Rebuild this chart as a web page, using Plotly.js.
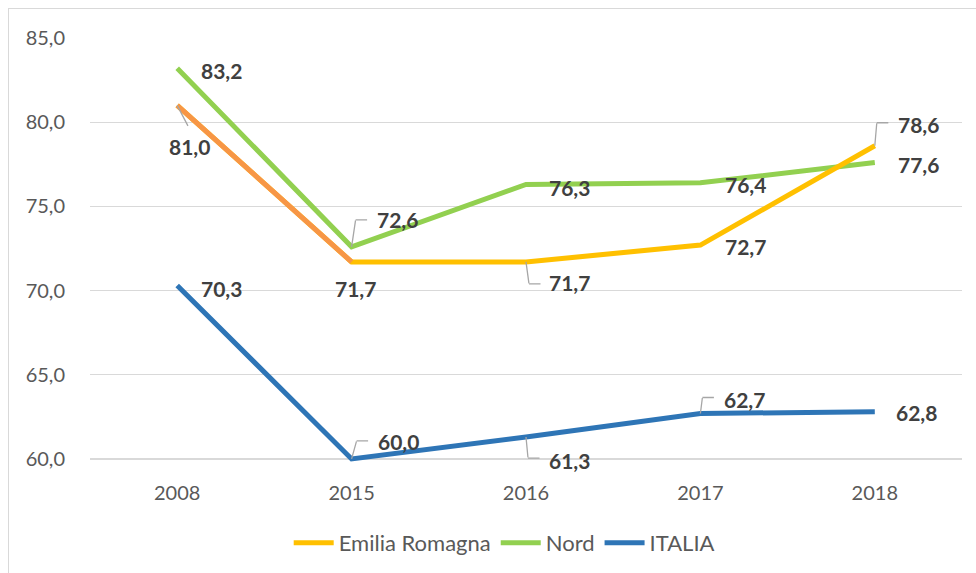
<!DOCTYPE html>
<html>
<head>
<meta charset="utf-8">
<script src="https://cdn.plot.ly/plotly-3.0.1.min.js"></script>
<style>
  html, body { margin: 0; padding: 0; background: #fff; }
  #wrap { position: relative; width: 976px; height: 573px; overflow: hidden; }
  #chart { position: absolute; left: 0; top: 0; width: 976px; height: 573px; }
  #frame { position: absolute; left: 8px; top: 8px; width: 1100px; height: 1100px;
           border: 1px solid #d9d9d9; pointer-events: none; box-sizing: border-box; }
</style>
</head>
<body>
<div id="wrap">
  <div id="chart"></div>
  <div id="frame"></div>
</div>
<script>
// ---- data ----
const years = ["2008", "2015", "2016", "2017", "2018"];
const emiliaRomagna = [81.0, 71.7, 71.7, 72.7, 78.6];
const nord = [83.2, 72.6, 76.3, 76.4, 77.6];
const italia = [70.3, 60.0, 61.3, 62.7, 62.8];
const seriesNames = ["Emilia Romagna", "Nord", "ITALIA"];

// ---- styling ----
const FONT = "Lato, 'Open Sans', 'Liberation Sans', sans-serif";
const colors = { emilia: "#FFC000", emiliaFirst: "#F79646", nord: "#92D050", italia: "#2E75B6" };
const LW = 5;

// label placement: pixel offset from the point to the text centre
const labelOffsets = {
  emilia: [[12, 41], [4, 27], [43, 21], [45, 1], [44, -21]],
  nord:   [[44, 2], [46, -27], [43, 3], [45, 2], [44, 2]],
  italia: [[44, 3], [47, -17], [43, 23], [44.5, -14], [42, 1]]
};
// leader lines: [elbow dx, elbow dy, horizontal length] from the point, or null
const leaders = {
  emilia: [[11, 21, 0], null, [3, 22, 12], null, [2, -23, 12]],
  nord:   [null, [4, -27, 12], null, null, null],
  italia: [null, [5, -18, 12], [2, 21, 12], [2, -16, 12], null]
};

function fmt(v) { return v.toFixed(1).replace(".", ","); }

const traces = [
  { x: years, y: nord, name: seriesNames[1], type: "scatter", mode: "lines", legendrank: 2,
    line: { color: colors.nord, width: LW }, hoverinfo: "skip" },
  { x: years, y: italia, name: seriesNames[2], type: "scatter", mode: "lines", legendrank: 3,
    line: { color: colors.italia, width: LW }, hoverinfo: "skip" },
  { x: years, y: emiliaRomagna, name: seriesNames[0], type: "scatter", mode: "lines", legendrank: 1,
    line: { color: colors.emilia, width: LW }, hoverinfo: "skip" },
  { x: years.slice(0, 2), y: emiliaRomagna.slice(0, 2), name: seriesNames[0], type: "scatter", mode: "lines",
    line: { color: colors.emiliaFirst, width: LW }, showlegend: false, hoverinfo: "skip" }
];

const annotations = [];
const LEADER = { arrowhead: 0, arrowwidth: 1.3, arrowcolor: "#a6a6a6", standoff: 0, startstandoff: 0 };
function addLabels(values, offs, leads) {
  values.forEach((v, i) => {
    const [dx, dy] = offs[i];
    annotations.push({
      x: i, y: v, xref: "x", yref: "y",
      text: "<b>" + fmt(v) + "</b>",
      font: { family: FONT, size: 21, color: "#404040" },
      xanchor: "center", yanchor: "middle", showarrow: false,
      xshift: dx, yshift: -dy
    });
    const L = leads[i];
    if (L) {
      const [cx, cy, len] = L;
      annotations.push(Object.assign({
        x: i, y: v, xref: "x", yref: "y", text: "", showarrow: true,
        ax: cx, ay: cy, font: { size: 1 }, borderpad: 0
      }, LEADER));
      if (len > 0) {
        annotations.push(Object.assign({
          x: i, y: v, xref: "x", yref: "y", text: "", showarrow: true,
          xshift: cx, yshift: -cy, ax: len, ay: 0, font: { size: 1 }, borderpad: 0
        }, LEADER));
      }
    }
  });
}
addLabels(emiliaRomagna, labelOffsets.emilia, leaders.emilia);
addLabels(nord, labelOffsets.nord, leaders.nord);
addLabels(italia, labelOffsets.italia, leaders.italia);

const layout = {
  width: 976, height: 573,
  margin: { l: 90, r: 14, t: 38, b: 109 },
  paper_bgcolor: "rgba(0,0,0,0)", plot_bgcolor: "rgba(0,0,0,0)",
  separators: ",.",
  font: { family: FONT, size: 20, color: "#595959" },
  xaxis: {
    type: "category", range: [-0.5, 4.5], showgrid: false, zeroline: false, showline: false,
    ticks: "outside", ticklen: 11, tickcolor: "rgba(0,0,0,0)",
    tickfont: { family: FONT, size: 20, color: "#595959" }, fixedrange: true
  },
  yaxis: {
    range: [59.7, 85], tickvals: [60, 65, 70, 75, 80, 85], tickformat: ".1f",
    showgrid: true, gridcolor: "#d9d9d9", gridwidth: 1.3, zeroline: false, showline: false,
    ticks: "outside", ticklen: 20, tickcolor: "rgba(0,0,0,0)",
    tickfont: { family: FONT, size: 20, color: "#595959" }, fixedrange: true
  },
  legend: {
    orientation: "h", x: 0.475, xanchor: "center", xref: "paper",
    yref: "container", y: 30 / 573, yanchor: "middle",
    font: { family: FONT, size: 22, color: "#595959" }, itemwidth: 40, tracegroupgap: 0
  },
  annotations: annotations,
  showlegend: true
};

Plotly.newPlot("chart", traces, layout, { staticPlot: true, displayModeBar: false });
</script>
</body>
</html>
